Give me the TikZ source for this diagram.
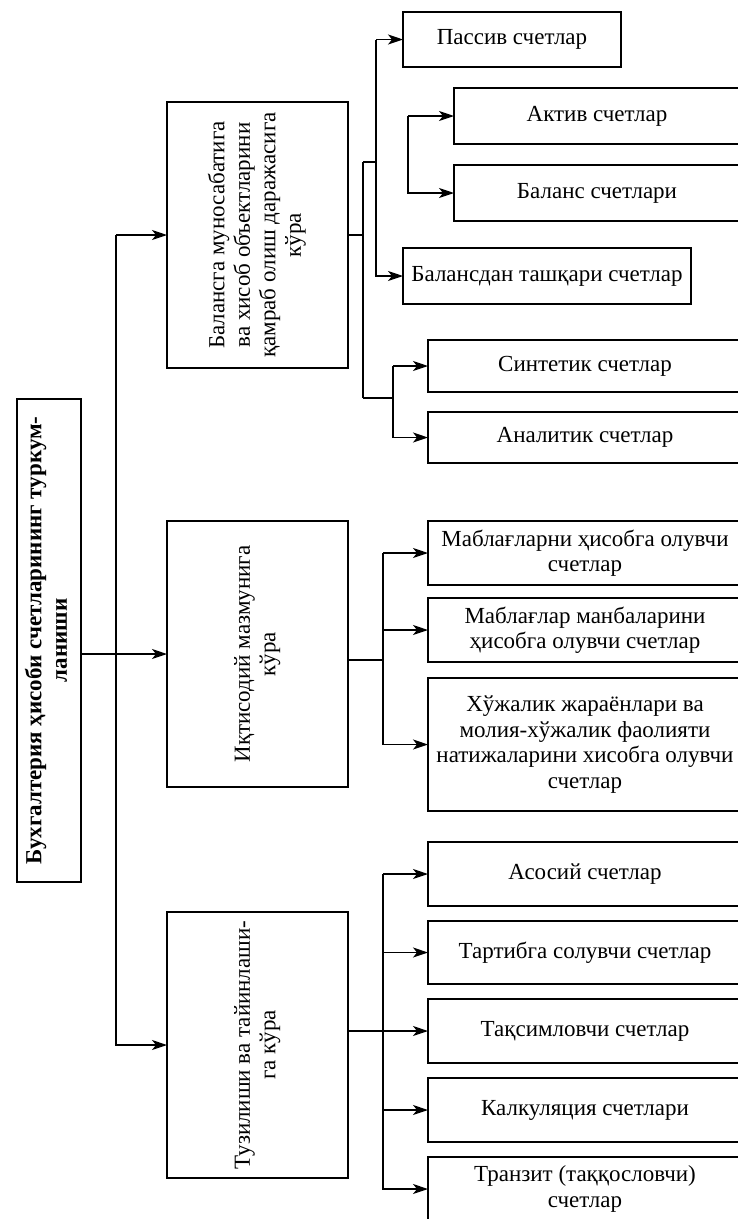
\documentclass[tikz,border=0pt]{standalone}
\usepackage{fontspec}
\setmainfont{Liberation Serif}
\usetikzlibrary{arrows.meta}
\begin{document}
\begin{tikzpicture}[x=1pt,y=-1pt,
  box/.style={draw, line width=1.2pt, inner sep=2pt, align=center, outer sep=0pt,
    font=\fontsize{23}{25.5}\selectfont},
  conn/.style={line width=1.2pt},
  arr/.style={conn, -{Stealth[length=15pt,width=10pt,inset=4pt]}}]
\useasboundingbox (0,0) rectangle (738,1219);

% main box
\node[box, minimum width=64pt, minimum height=483pt] (main) at (49,640.5)
  {\rotatebox{90}{\bfseries\begin{tabular}{@{}c@{}}Бухгалтерия ҳисоби счетларининг туркум-\\ ланиши\end{tabular}}};

% second level
\node[box, minimum width=181pt, minimum height=266pt] (b1) at (257.5,235)
  {\rotatebox{90}{\begin{tabular}{@{}c@{}}Балансга муносабатига\\ ва хисоб объектларини\\ қамраб олиш даражасига\\ кўра\end{tabular}}};
\node[box, minimum width=181pt, minimum height=266pt] (b2) at (257.5,654)
  {\rotatebox{90}{\begin{tabular}{@{}c@{}}Иқтисодий мазмунига\\ кўра\end{tabular}}};
\node[box, minimum width=181pt, minimum height=266pt] (b3) at (257.5,1045)
  {\rotatebox{90}{\begin{tabular}{@{}c@{}}Тузилиши ва тайинлаши-\\ га кўра\end{tabular}}};

% first group
\node[box, minimum width=218pt, minimum height=55pt] (pass) at (512,39.5) {Пассив счетлар};
\node[box, minimum width=286pt, minimum height=56pt] (aktiv) at (597,116) {Актив счетлар};
\node[box, minimum width=286pt, minimum height=56pt] (balans) at (597,193) {Баланс счетлари};
\node[box, minimum width=288pt, minimum height=56pt] (bdan) at (547,276) {Балансдан ташқари счетлар};
\node[box, minimum width=314pt, minimum height=52pt] (sint) at (585,366) {Синтетик счетлар};
\node[box, minimum width=314pt, minimum height=51pt] (anal) at (585,437.5) {Аналитик счетлар};

% second group
\node[box, minimum width=314pt, minimum height=64pt] (m1) at (585,553) {Маблағларни ҳисобга олувчи\\ счетлар};
\node[box, minimum width=314pt, minimum height=64pt] (m2) at (585,630) {Маблағлар манбаларини\\ ҳисобга олувчи счетлар};
\node[box, minimum width=314pt, minimum height=133pt] (m3) at (585,744.5) {Хўжалик жараёнлари ва\\ молия-хўжалик фаолияти\\ натижаларини хисобга олувчи\\ счетлар};

% third group
\node[box, minimum width=314pt, minimum height=64pt] (a1) at (585,874) {Асосий счетлар};
\node[box, minimum width=314pt, minimum height=63pt] (a2) at (585,952.5) {Тартибга солувчи счетлар};
\node[box, minimum width=314pt, minimum height=64pt] (a3) at (585,1031) {Тақсимловчи счетлар};
\node[box, minimum width=314pt, minimum height=64pt] (a4) at (585,1110) {Калкуляция счетлари};
\node[box, minimum width=314pt, minimum height=64pt] (a5) at (585,1189) {Транзит (таққословчи)\\ счетлар};

% trunk
\coordinate (tx) at (116,0);
\draw[arr] (main.east |- b2.west) -- (b2.west);
\draw[arr] (tx |- b1.west) -- (b1.west);
\draw[arr] (tx |- b1.west) -- (tx |- b3.west) -- (b3.west);

% first group connectors
\coordinate (v1t) at (363,162);
\coordinate (v1b) at (363,398);
\coordinate (v2) at (376,0);
\coordinate (v3) at (393,0);
\coordinate (v4) at (408,0);
\draw[conn] (b1.east) -- (v1t |- b1.east);
\draw[conn] (v1t) -- (v1b);
\draw[conn] (v1t) -- (v2 |- v1t);
\draw[arr] (v2 |- pass.west) -- (pass.west);
\draw[arr] (v2 |- pass.west) -- (v2 |- bdan.west) -- (bdan.west);
\draw[conn] (v1b) -- (v3 |- v1b);
\draw[arr] (v3 |- sint.west) -- (sint.west);
\draw[arr] (v3 |- sint.west) -- (v3 |- anal.west) -- (anal.west);
\draw[arr] (v4 |- aktiv.west) -- (aktiv.west);
\draw[arr] (v4 |- aktiv.west) -- (v4 |- balans.west) -- (balans.west);

% second group connectors
\coordinate (v5) at (383,0);
\coordinate (b2o) at (348,660);
\draw[conn] (b2o) -- (v5 |- b2o);
\draw[arr] (v5 |- m1.west) -- (m1.west);
\draw[arr] (v5 |- m2.west) -- (m2.west);
\draw[arr] (v5 |- m1.west) -- (v5 |- m3.west) -- (m3.west);

% third group connectors
\draw[arr] (b3.east |- a3.west) -- (a3.west);
\draw[arr] (v5 |- a1.west) -- (a1.west);
\draw[arr] (v5 |- a2.west) -- (a2.west);
\draw[arr] (v5 |- a4.west) -- (a4.west);
\draw[arr] (v5 |- a1.west) -- (v5 |- a5.west) -- (a5.west);
\end{tikzpicture}
\end{document}
